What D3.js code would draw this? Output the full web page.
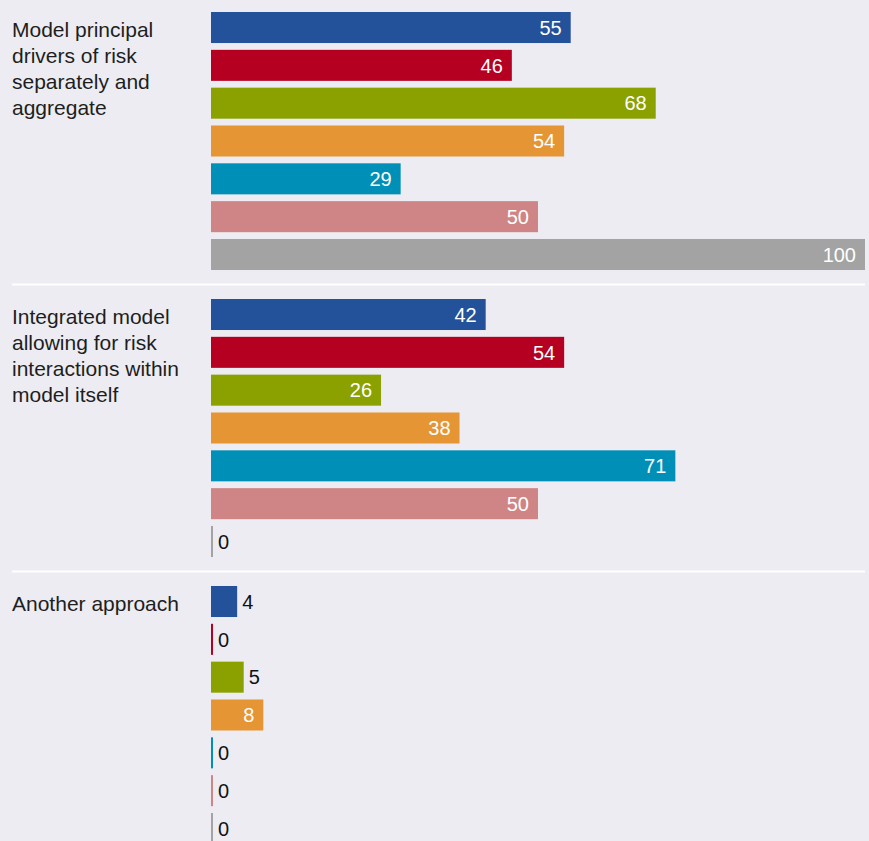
<!DOCTYPE html>
<html>
<head>
<meta charset="utf-8">
<script src="https://cdn.jsdelivr.net/npm/d3@7"></script>
<style>
  html, body { margin: 0; padding: 0; background: #ececf2; }
  svg { display: block; font-family: "Liberation Sans", Arial, sans-serif; }
</style>
</head>
<body>
<div id="chart"></div>
<script>
// categories (row groups), label lines as shown
var categories = ["Model principal drivers of risk separately and aggregate",
                  "Integrated model allowing for risk interactions within model itself",
                  "Another approach"];
var categoryLines = [["Model principal", "drivers of risk", "separately and", "aggregate"],
                     ["Integrated model", "allowing for risk", "interactions within", "model itself"],
                     ["Another approach"]];

// one value per category for each series
var seriesNames = ["S1", "S2", "S3", "S4", "S5", "S6", "S7"];
var s1 = [55, 42, 4];
var s2 = [46, 54, 0];
var s3 = [68, 26, 5];
var s4 = [54, 38, 8];
var s5 = [29, 71, 0];
var s6 = [50, 50, 0];
var s7 = [100, 0, 0];
var seriesValues = [s1, s2, s3, s4, s5, s6, s7];
var colors = ["#23519a", "#b50022", "#8aa100", "#e59533", "#0090b7", "#cf8585", "#a3a3a3"];

var W = 869, H = 841;

var svg = d3.select("#chart")
  .append("svg")
    .attr("width", W)
    .attr("height", H);

svg.append("rect")
  .attr("width", W).attr("height", H)
  .attr("fill", "#ececf2");

var x = d3.scaleLinear().domain([0, 100]).range([211, 865]);

var y0 = d3.scaleBand()
  .domain(categories)
  .range([12, 844])
  .paddingInner(0.101)
  .paddingOuter(0);

var y1 = d3.scaleBand()
  .domain(seriesNames)
  .range([0, y0.bandwidth()])
  .paddingInner(0.18)
  .paddingOuter(0);

var gap = y0.step() - y0.bandwidth();

// separators between groups
svg.selectAll("line.sep")
  .data(categories.slice(1))
  .enter()
  .append("line")
    .attr("class", "sep")
    .attr("x1", 12)
    .attr("x2", 865)
    .attr("y1", function(d) { return y0(d) - gap / 2; })
    .attr("y2", function(d) { return y0(d) - gap / 2; })
    .style("stroke", "#ffffff")
    .style("stroke-width", 2);

var group = svg.selectAll("g.group")
  .data(categories)
  .enter()
  .append("g")
    .attr("class", "group")
    .attr("transform", function(d) { return "translate(0," + y0(d) + ")"; });

// category labels
group.append("text")
  .attr("fill", "#1e1e1e")
  .style("font-size", "21px")
  .selectAll("tspan")
  .data(function(d, i) { return categoryLines[i]; })
  .enter()
  .append("tspan")
    .attr("x", 12)
    .attr("y", function(d, i) { return 25 + i * 26; })
    .text(function(d) { return d; });

// bars
var bars = group.selectAll("g.bar")
  .data(function(d, ci) {
    return seriesNames.map(function(s, si) {
      return {series: s, si: si, value: seriesValues[si][ci]};
    });
  })
  .enter()
  .append("g")
    .attr("class", "bar");

bars.append("rect")
  .attr("x", x(0))
  .attr("y", function(d) { return y1(d.series); })
  .attr("width", function(d) { return Math.max(2, x(d.value) - x(0)); })
  .attr("height", y1.bandwidth())
  .attr("fill", function(d) { return colors[d.si]; });

bars.append("text")
  .attr("x", function(d) {
    var w = x(d.value) - x(0);
    return w > 40 ? x(d.value) - 9 : x(0) + Math.max(2, w) + 5;
  })
  .attr("y", function(d) { return y1(d.series) + y1.bandwidth() / 2; })
  .attr("dy", "0.36em")
  .attr("text-anchor", function(d) { return (x(d.value) - x(0)) > 40 ? "end" : "start"; })
  .attr("fill", function(d) { return (x(d.value) - x(0)) > 40 ? "#ffffff" : "#111111"; })
  .style("font-size", "20px")
  .text(function(d) { return d.value; });
</script>
</body>
</html>
